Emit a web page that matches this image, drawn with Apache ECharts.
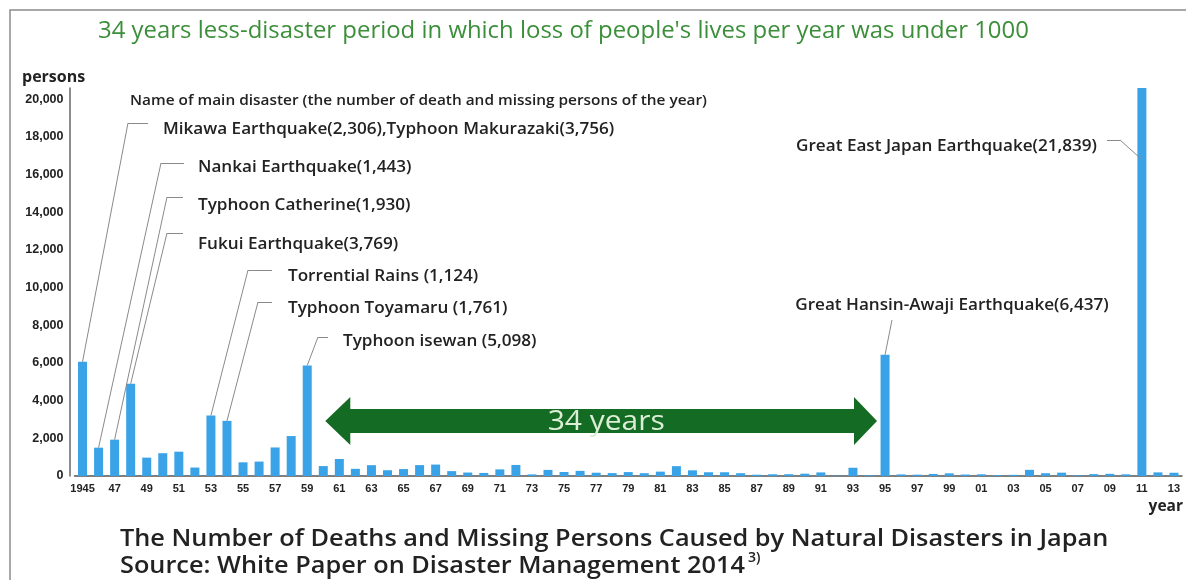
<!DOCTYPE html>
<html>
<head>
<meta charset="utf-8">
<title>Deaths and missing persons by natural disasters in Japan</title>
<script src="https://cdn.jsdelivr.net/npm/echarts@6/dist/echarts.min.js"></script>
<style>
  html, body { margin: 0; padding: 0; background: #fff; }
  #main { width: 1186px; height: 580px; }
</style>
</head>
<body>
<div id="main"></div>
<script>
// years on the x axis
var years = ['1945','1946','1947','1948','1949','1950','1951','1952','1953','1954',
  '1955','1956','1957','1958','1959','1960','1961','1962','1963','1964',
  '1965','1966','1967','1968','1969','1970','1971','1972','1973','1974',
  '1975','1976','1977','1978','1979','1980','1981','1982','1983','1984',
  '1985','1986','1987','1988','1989','1990','1991','1992','1993','1994',
  '1995','1996','1997','1998','1999','2000','2001','2002','2003','2004',
  '2005','2006','2007','2008','2009','2010','2011','2012','2013'];

// deaths and missing persons per year
var deaths = [6062, 1504, 1930, 4897, 975, 1210, 1291, 449, 3212, 2926,
  727, 765, 1515, 2120, 5868, 528, 902, 381, 575, 307,
  367, 578, 607, 259, 183, 163, 350, 587, 85, 324,
  213, 273, 174, 153, 208, 148, 232, 524, 301, 199,
  199, 148, 69, 93, 96, 123, 190, 19, 438, 39,
  6437, 84, 71, 109, 141, 78, 90, 48, 62, 327,
  148, 177, 39, 100, 115, 89, 21839, 192, 173];

// main disasters (year, point on the bar where the leader line lands, text)
var noteYears = ['1945', '1946', '1947', '1948', '1953', '1954', '1959', '1995', '2011'];
var noteAnchor = [6062, 1504, 1930, 4897, 3212, 2926, 5868, 6437, 16800];
var noteText = [
  'Mikawa Earthquake(2,306),Typhoon Makurazaki(3,756)',
  'Nankai Earthquake(1,443)',
  'Typhoon Catherine(1,930)',
  'Fukui Earthquake(3,769)',
  'Torrential Rains (1,124)',
  'Typhoon Toyamaru (1,761)',
  'Typhoon isewan (5,098)',
  'Great Hansin-Awaji Earthquake(6,437)',
  'Great East Japan Earthquake(21,839)'
];

// where the texts and the leader line elbows sit (pixels)
var noteLayout = [
  { elbow: [128, 123], end: [148, 123], tx: 163, ty: 129, align: 'left' },
  { elbow: [161, 163], end: [184, 163], tx: 198, ty: 167, align: 'left' },
  { elbow: [167, 197], end: [183, 197], tx: 198, ty: 205, align: 'left' },
  { elbow: [167, 233], end: [183, 233], tx: 198, ty: 244, align: 'left' },
  { elbow: [248, 270], end: [272, 270], tx: 288, ty: 276, align: 'left' },
  { elbow: [258, 302], end: [272, 302], tx: 288, ty: 308, align: 'left' },
  { elbow: [318, 337], end: [328, 337], tx: 343, ty: 341, align: 'left' },
  { elbow: [892, 320], end: null, tx: 952, ty: 305, align: 'center' },
  { elbow: [1120, 140], end: [1107, 140], tx: 1097, ty: 146, align: 'right' }
];

var noteFont = '600 16px "Open Sans"';
var dark = '#222';

// leader lines: bar -> elbow -> short horizontal stroke
var leaders = [];
var texts = [];
noteYears.forEach(function (y, i) {
  var l = noteLayout[i];
  leaders.push([{ coord: [y, noteAnchor[i]] }, { x: l.elbow[0], y: l.elbow[1] }]);
  if (l.end) {
    leaders.push([{ x: l.elbow[0], y: l.elbow[1] }, { x: l.end[0], y: l.end[1] }]);
  }
  texts.push({
    type: 'text', x: l.tx, y: l.ty, scaleX: 1.07, silent: true,
    style: { text: noteText[i], font: noteFont, fill: dark, align: l.align, verticalAlign: 'middle' }
  });
});

var chart = echarts.init(document.getElementById('main'), null, { renderer: 'canvas' });

var option = {
  animation: false,
  backgroundColor: '#fff',
  grid: { left: 74.5, right: 4, top: 88, bottom: 104 },
  xAxis: {
    type: 'category',
    data: years,
    axisLine: { lineStyle: { color: '#555', width: 1.5 } },
    axisTick: { show: false },
    axisLabel: {
      interval: 1,
      margin: 7,
      color: dark,
      fontFamily: 'Liberation Sans',
      fontWeight: 'bold',
      fontSize: 11,
      formatter: function (v, idx) { return idx === 0 ? v : v.slice(2); }
    }
  },
  yAxis: {
    type: 'value',
    min: 0,
    max: 20600,
    interval: 2000,
    offset: 5,
    axisLine: { show: true, lineStyle: { color: '#666', width: 1.5 } },
    axisTick: { show: false },
    splitLine: { show: false },
    axisLabel: {
      showMaxLabel: false,
      margin: 6,
      color: dark,
      fontFamily: 'Liberation Sans',
      fontWeight: 'bold',
      fontSize: 12.5,
      formatter: function (v) { return v.toLocaleString('en-US'); }
    }
  },
  series: [{
    type: 'bar',
    data: deaths,
    barWidth: 9,
    itemStyle: { color: '#3aa3e8' },
    markLine: {
      silent: true,
      symbol: ['none', 'none'],
      label: { show: false },
      lineStyle: { color: '#8a8a8a', width: 1, type: 'solid' },
      data: leaders
    }
  }],
  graphic: []
};

chart.setOption(option);

// 34-year arrow from 1960 to 1994
var xL = chart.convertToPixel({ xAxisIndex: 0 }, '1960') + 2;
var xR = chart.convertToPixel({ xAxisIndex: 0 }, '1994') + 8;
var cy = 421;

var graphics = [
  // frame
  { type: 'polyline', silent: true, shape: { points: [[10, 580], [10, 10], [1186, 10]] },
    style: { stroke: '#8c8c8c', lineWidth: 1.5, fill: null } },
  { type: 'text', x: 98, y: 31, scaleX: 1.04, silent: true,
    style: { text: "34 years less-disaster period in which loss of people's lives per year was under 1000",
      font: '23px "Open Sans"', fill: '#3c8f3a', verticalAlign: 'middle' } },
  { type: 'text', x: 22, y: 77, silent: true,
    style: { text: 'persons', font: 'bold 16px "Open Sans"', fill: dark, verticalAlign: 'middle' } },
  { type: 'text', x: 130, y: 101, scaleX: 1.14, silent: true,
    style: { text: 'Name of main disaster (the number of death and missing persons of the year)',
      font: '600 13.5px "Open Sans"', fill: dark, verticalAlign: 'middle' } },
  { type: 'text', x: 1183, y: 507, silent: true,
    style: { text: 'year', font: 'bold 15.5px "Open Sans"', fill: dark, align: 'right', verticalAlign: 'middle' } },
  { type: 'text', x: 120, y: 539, scaleX: 1.1, silent: true,
    style: { text: 'The Number of Deaths and Missing Persons Caused by Natural Disasters in Japan',
      font: '600 23px "Open Sans"', fill: dark, verticalAlign: 'middle' } },
  { type: 'text', x: 120, y: 566, scaleX: 1.1, silent: true,
    style: { text: 'Source: White Paper on Disaster Management 2014',
      font: '600 23px "Open Sans"', fill: dark, verticalAlign: 'middle' } },
  { type: 'text', x: 748, y: 558, silent: true,
    style: { text: '3)', font: '600 14px "Open Sans"', fill: dark, verticalAlign: 'middle' } },
  { type: 'polygon', silent: true,
    shape: { points: [
      [xL, cy], [xL + 25, cy - 24], [xL + 25, cy - 12], [xR - 23, cy - 12], [xR - 23, cy - 24],
      [xR, cy], [xR - 23, cy + 24], [xR - 23, cy + 12], [xL + 25, cy + 12], [xL + 25, cy + 24]
    ] },
    style: { fill: '#146b24' } },
  { type: 'text', x: (xL + xR) / 2 + 5, y: cy + 1, scaleX: 1.07, silent: true,
    style: { text: '34 years', font: '28px "Open Sans"', fill: '#dcefd6', align: 'center', verticalAlign: 'middle' } }
].concat(texts);

chart.setOption({ graphic: graphics });
</script>
</body>
</html>
